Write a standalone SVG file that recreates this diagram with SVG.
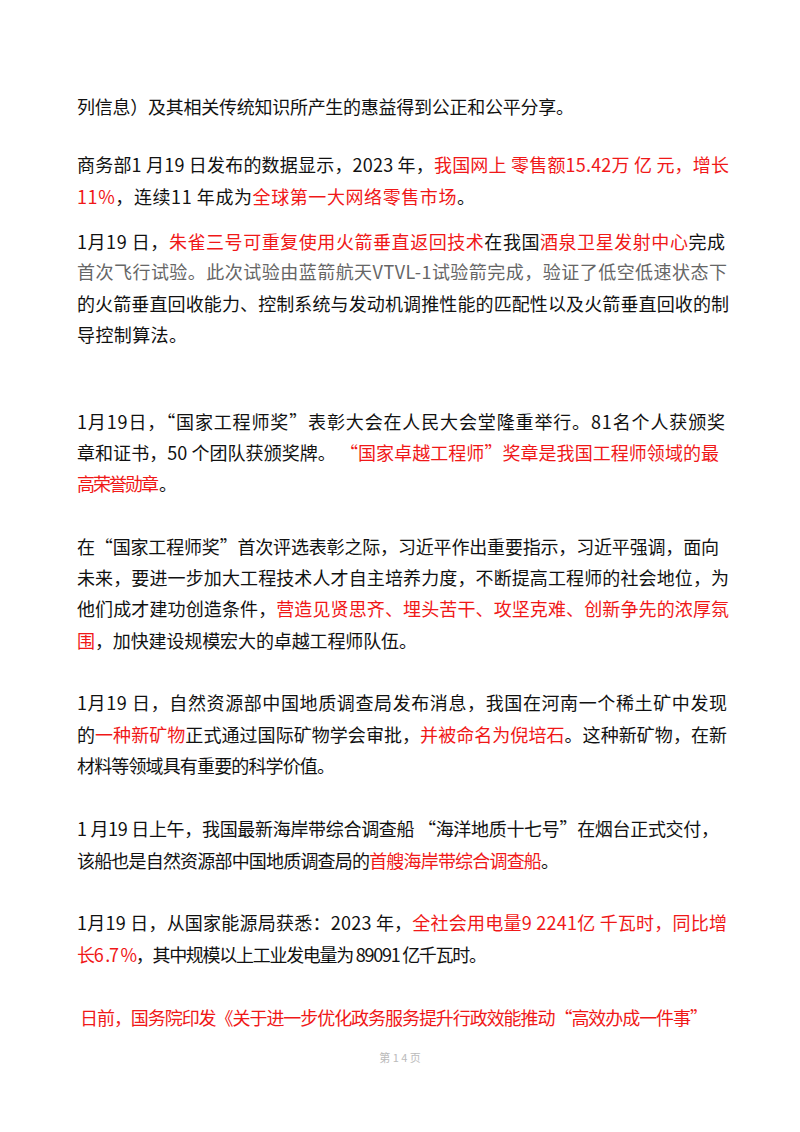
<svg xmlns="http://www.w3.org/2000/svg" width="800" height="1132" viewBox="0 0 800 1132">
<style>
text{font-family:"Noto Sans CJK SC","Liberation Sans",sans-serif;font-size:18px;fill:#111}
.r{fill:#f01818}
.g{fill:#666}
.f{fill:#bbb;font-size:11px}
</style>
<rect width="800" height="1132" fill="#fff"/>
<text x="77" y="114" textLength="497" lengthAdjust="spacing">列信息）及其相关传统知识所产生的惠益得到公正和公平分享。</text>
<text x="77" y="172" textLength="652" lengthAdjust="spacing">商务部1 月19 日发布的数据显示，2023 年，<tspan class="r">我国网上 零售额15.42万 亿 元，增长</tspan></text>
<text x="77" y="204" textLength="398" lengthAdjust="spacing"><tspan class="r">11%</tspan>，连续11 年成为<tspan class="r">全球第一大网络零售市场</tspan>。</text>
<text x="77" y="249" textLength="648" lengthAdjust="spacing">1月19 日，<tspan class="r">朱雀三号可重复使用火箭垂直返回技术</tspan>在我国<tspan class="r">酒泉卫星发射中心</tspan>完成</text>
<text x="77" y="279" textLength="650" lengthAdjust="spacing" class="g">首次飞行试验。此次试验由蓝箭航天VTVL-1试验箭完成，验证了低空低速状态下</text>
<text x="77" y="311" textLength="652" lengthAdjust="spacing">的火箭垂直回收能力、控制系统与发动机调推性能的匹配性以及火箭垂直回收的制</text>
<text x="77" y="342" textLength="110" lengthAdjust="spacing">导控制算法。</text>
<text x="77" y="429" textLength="648" lengthAdjust="spacing">1月19日，“国家工程师奖”表彰大会在人民大会堂隆重举行。81名个人获颁奖</text>
<text x="77" y="460" textLength="642" lengthAdjust="spacing">章和证书，50 个团队获颁奖牌。   <tspan class="r">“国家卓越工程师”奖章是我国工程师领域的最</tspan></text>
<text x="77" y="491" textLength="100" lengthAdjust="spacing"><tspan class="r">高荣誉勋章</tspan> 。</text>
<text x="77" y="554" textLength="642" lengthAdjust="spacing">在“国家工程师奖”首次评选表彰之际，习近平作出重要指示，习近平强调，面向</text>
<text x="77" y="585" textLength="652" lengthAdjust="spacing">未来，要进一步加大工程技术人才自主培养力度，不断提高工程师的社会地位，为</text>
<text x="77" y="616" textLength="652" lengthAdjust="spacing">他们成才建功创造条件，<tspan class="r">营造见贤思齐、埋头苦干、攻坚克难、创新争先的浓厚氛</tspan></text>
<text x="77" y="648" textLength="340" lengthAdjust="spacing"><tspan class="r">围</tspan>，加快建设规模宏大的卓越工程师队伍。</text>
<text x="77" y="710" textLength="650" lengthAdjust="spacing">1月19 日，自然资源部中国地质调查局发布消息，我国在河南一个稀土矿中发现</text>
<text x="77" y="742" textLength="650" lengthAdjust="spacing">的<tspan class="r">一种新矿物</tspan>正式通过国际矿物学会审批，<tspan class="r">并被命名为倪培石</tspan>。这种新矿物，在新</text>
<text x="77" y="773" textLength="258" lengthAdjust="spacing">材料等领域具有重要的科学价值。</text>
<text x="77" y="836" textLength="642" lengthAdjust="spacing">1 月19 日上午，我国最新海岸带综合调查船  “海洋地质十七号”在烟台正式交付，</text>
<text x="77" y="868" textLength="482" lengthAdjust="spacing">该船也是自然资源部中国地质调查局的<tspan class="r">首艘海岸带综合调查船</tspan>。</text>
<text x="77" y="930" textLength="650" lengthAdjust="spacing">1月19 日，从国家能源局获悉：2023 年，<tspan class="r">全社会用电量9 2241亿 千瓦时，同比增</tspan></text>
<text x="77" y="962" textLength="410" lengthAdjust="spacing"><tspan class="r">长6 .7 %</tspan>，其中规模以上工业发电量为 89091 亿千瓦时。</text>
<text x="80" y="1025" textLength="628" lengthAdjust="spacing" class="r">日前，国务院印发《关于进一步优化政务服务提升行政效能推动“高效办成一件事”</text>
<text x="400" y="1062" text-anchor="middle" class="f">第 1 4 页</text>
</svg>
